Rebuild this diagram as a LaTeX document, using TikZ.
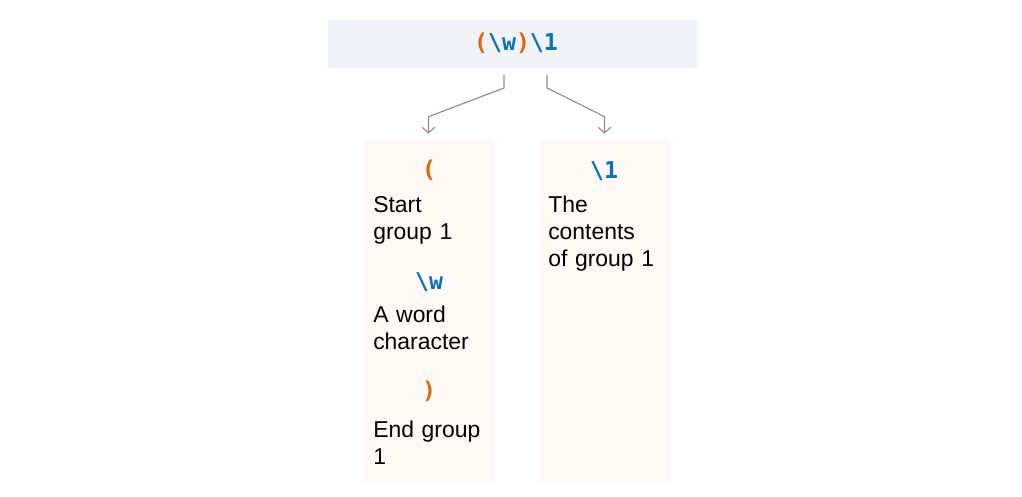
\documentclass[tikz,border=0pt]{standalone}
\usepackage{fontspec}
\setmainfont{Liberation Sans}
\setmonofont{DejaVu Sans Mono}
\usetikzlibrary{arrows.meta,positioning}
\definecolor{codeblue}{HTML}{0B72B5}
\definecolor{codeorange}{HTML}{E0650A}
\definecolor{topfill}{HTML}{EFF3F8}
\definecolor{colfill}{HTML}{FFF9F5}
\definecolor{linegray}{HTML}{8C8C8C}
\newcommand{\bsl}{\textbackslash}

\begin{document}
\begin{tikzpicture}[x=0.025cm,y=-0.025cm,
	topbox/.style = {fill=topfill,inner sep=0pt,minimum width=9.225cm,minimum height=1.2cm},
	colbox/.style = {fill=colfill,inner sep=0pt,minimum width=3.25cm,minimum height=8.55cm},
	code/.style = {font=\fontsize{16.5}{20}\ttfamily\bfseries,inner sep=0pt,anchor=base},
	txt/.style = {font=\fontsize{16.3}{19.5}\selectfont,align=left,text width=3.2cm,inner sep=0pt,anchor=base west},
	link/.style = {draw=linegray,line width=0.8pt,-{Straight Barb[length=4pt,width=9pt]},shorten >=0.15cm}
	]
	\useasboundingbox (0,0) rectangle (1022,496);
	%BOXES
	\node[topbox] (top) at (512.5,44) {};
	\node[colbox] (colA) at (428.5,311) {};
	\node[colbox] (colB) at (604.5,311) {};
	%REGEX
	\node[code] (regex) at (516,50) {\textcolor{codeorange}{(}\textcolor{codeblue}{\bsl w}\textcolor{codeorange}{)}\textcolor{codeblue}{\bsl 1}};
	\coordinate (grp) at (504,75);
	\coordinate (ref) at (547,75);
	%Connettori
	\draw[link] (grp) -- ++(0,13) -- ([yshift=0.575cm]colA.north) -- (colA.north);
	\draw[link] (ref) -- ++(0,13) -- ([yshift=0.575cm]colB.north) -- (colB.north);
	%Colonna sinistra
	\node[code] (open) at (429,177) {\textcolor{codeorange}{(}};
	\node[txt] (opentxt) at (373,212) {Start\\group 1};
	\node[code] (word) at (429,289) {\textcolor{codeblue}{\bsl w}};
	\node[txt] (wordtxt) at (373,322) {A word\\character};
	\node[code] (close) at (429,398) {\textcolor{codeorange}{)}};
	\node[txt] (closetxt) at (373,437) {End group\\1};
	%Colonna destra
	\node[code] (back) at (604,178) {\textcolor{codeblue}{\bsl 1}};
	\node[txt] (backtxt) at (548,212) {The\\contents\\of group 1};
\end{tikzpicture}
\end{document}
